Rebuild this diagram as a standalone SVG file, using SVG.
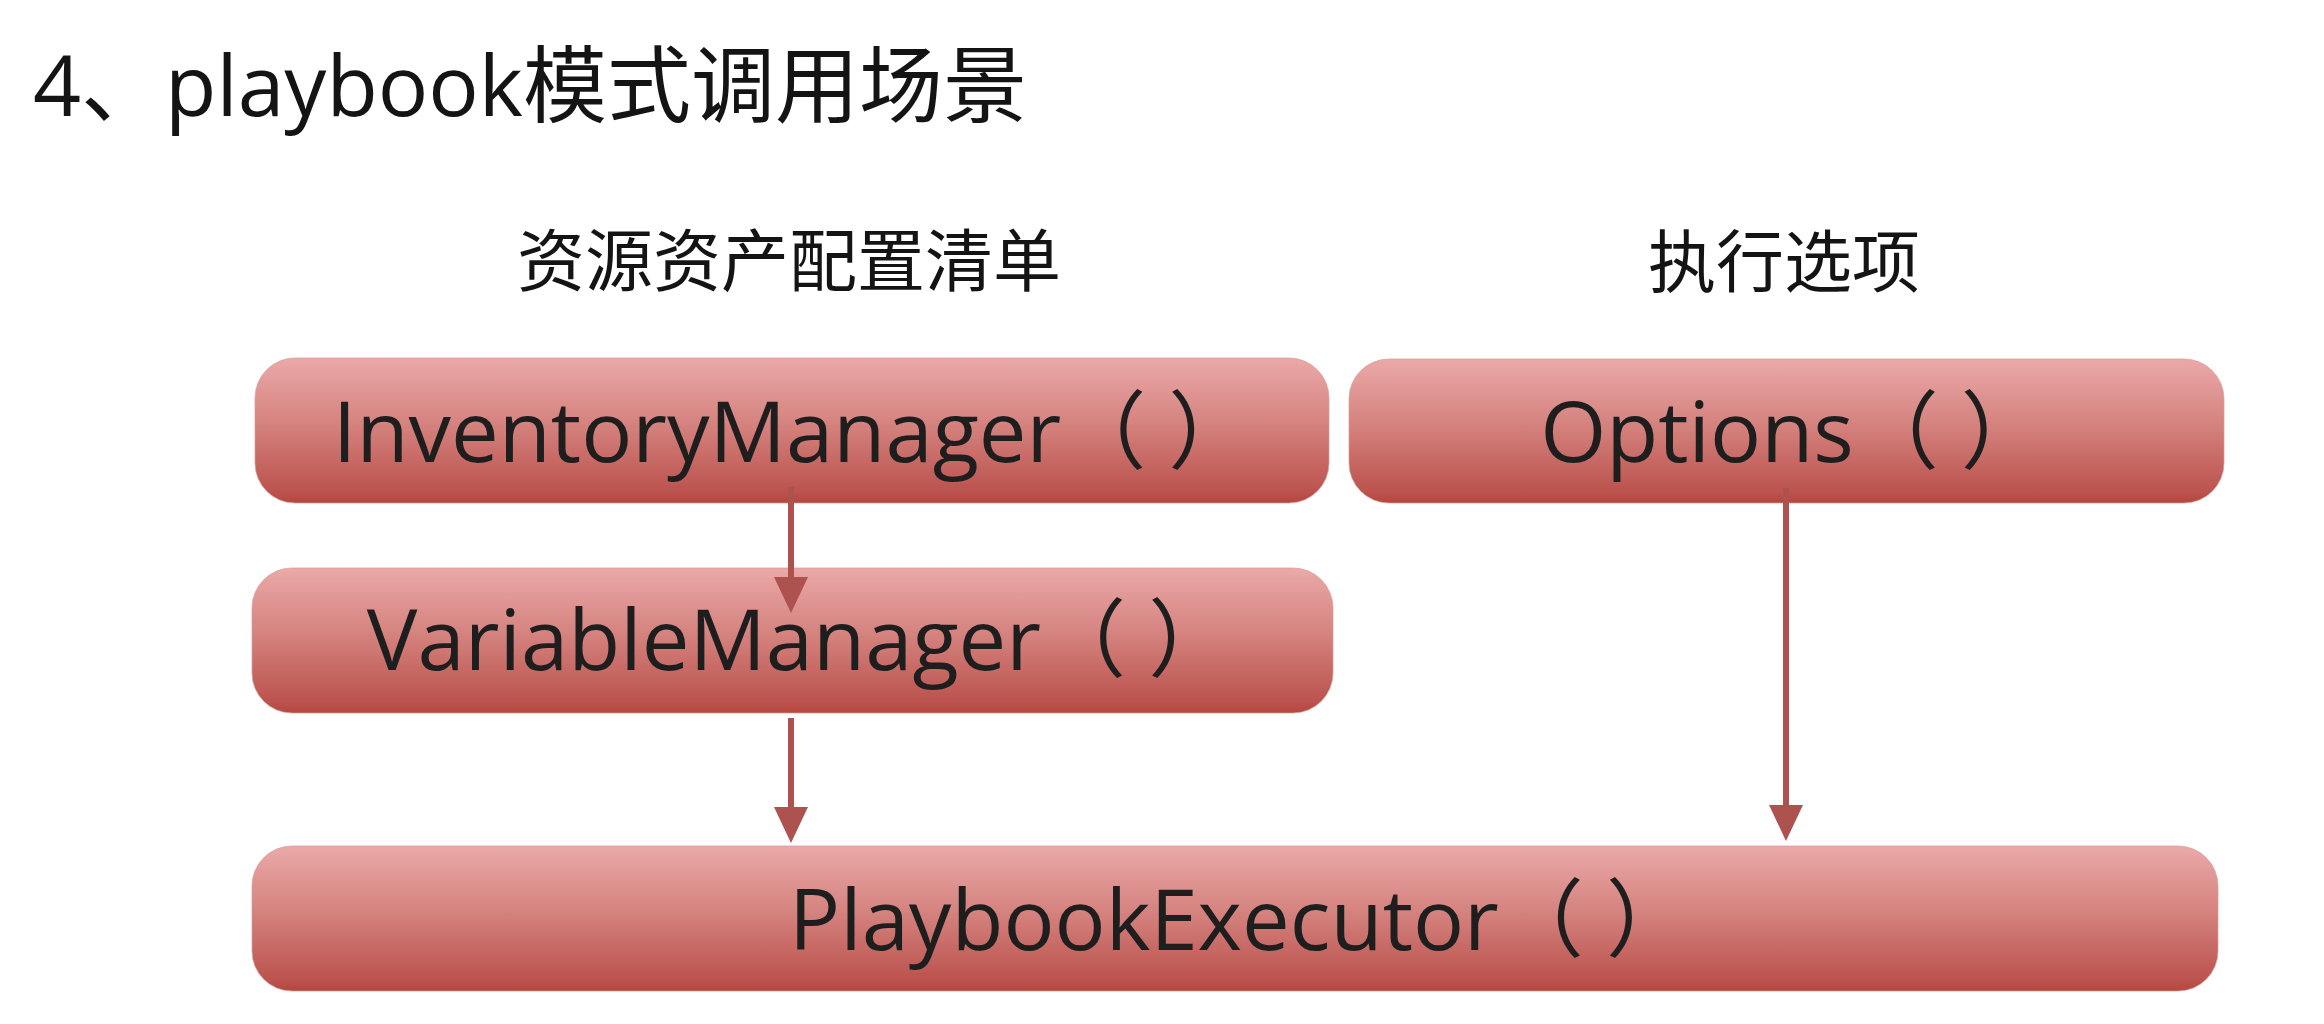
<svg xmlns="http://www.w3.org/2000/svg" width="2324" height="1024" viewBox="0 0 2324 1024">
  <style>
    .title { font-family: "Open Sans", "Noto Sans CJK SC", sans-serif; font-size: 84px; fill: #141414; }
    .heading { font-family: "Noto Sans CJK SC", "Open Sans", sans-serif; font-size: 68px; fill: #141414; text-anchor: middle; }
    .box { fill: url(#boxGrad); stroke: #d79a97; stroke-width: 1; stroke-opacity: 0.7; }
    .label { font-family: "Open Sans", "Noto Sans CJK SC", sans-serif; font-size: 85px; fill: #1e1e1e; text-anchor: middle; }
    .conn { stroke: #ad524e; stroke-width: 6; fill: none; marker-end: url(#arrow); }
  </style>
  <defs>
    <linearGradient id="boxGrad" x1="0" y1="0" x2="0" y2="1">
      <stop offset="0" stop-color="#eaa9a8"/>
      <stop offset="0.45" stop-color="#d5837f"/>
      <stop offset="0.93" stop-color="#bb524d"/>
      <stop offset="1" stop-color="#b4473c"/>
    </linearGradient>
    <marker id="arrow" viewBox="0 0 36 34" refX="6" refY="17" markerWidth="36" markerHeight="34" markerUnits="userSpaceOnUse" orient="auto">
      <path d="M0,0 L36,17 L0,34 z" fill="#ad524e"/>
    </marker>
  </defs>

  <rect width="2324" height="1024" fill="#ffffff"/>

  <text id="title" class="title" x="33" y="116">4、playbook模式调用场景</text>
  <text id="heading-inventory" class="heading" x="789" y="286">资源资产配置清单</text>
  <text id="heading-options" class="heading" x="1784" y="287">执行选项</text>

  <g id="node-inventory">
    <rect class="box" x="255" y="358" width="1074" height="145" rx="40" ry="40"/>
    <text class="label" x="793" y="462">InventoryManager（ ）</text>
  </g>
  <g id="node-variable">
    <rect class="box" x="252" y="568" width="1081" height="145" rx="40" ry="40"/>
    <text class="label" x="800" y="670">VariableManager（ ）</text>
  </g>
  <g id="node-options">
    <rect class="box" x="1349" y="359" width="875" height="144" rx="40" ry="40"/>
    <text class="label" x="1793" y="462">Options（ ）</text>
  </g>
  <g id="node-playbook">
    <rect class="box" x="252" y="846" width="1966" height="145" rx="40" ry="40"/>
    <text class="label" x="1240" y="950">PlaybookExecutor（ ）</text>
  </g>

  <g id="connectors">
    <line class="conn" x1="791" y1="487" x2="791" y2="583"/>
    <line class="conn" x1="791" y1="718" x2="791" y2="813"/>
    <line class="conn" x1="1786" y1="488" x2="1786" y2="811"/>
  </g>
</svg>
